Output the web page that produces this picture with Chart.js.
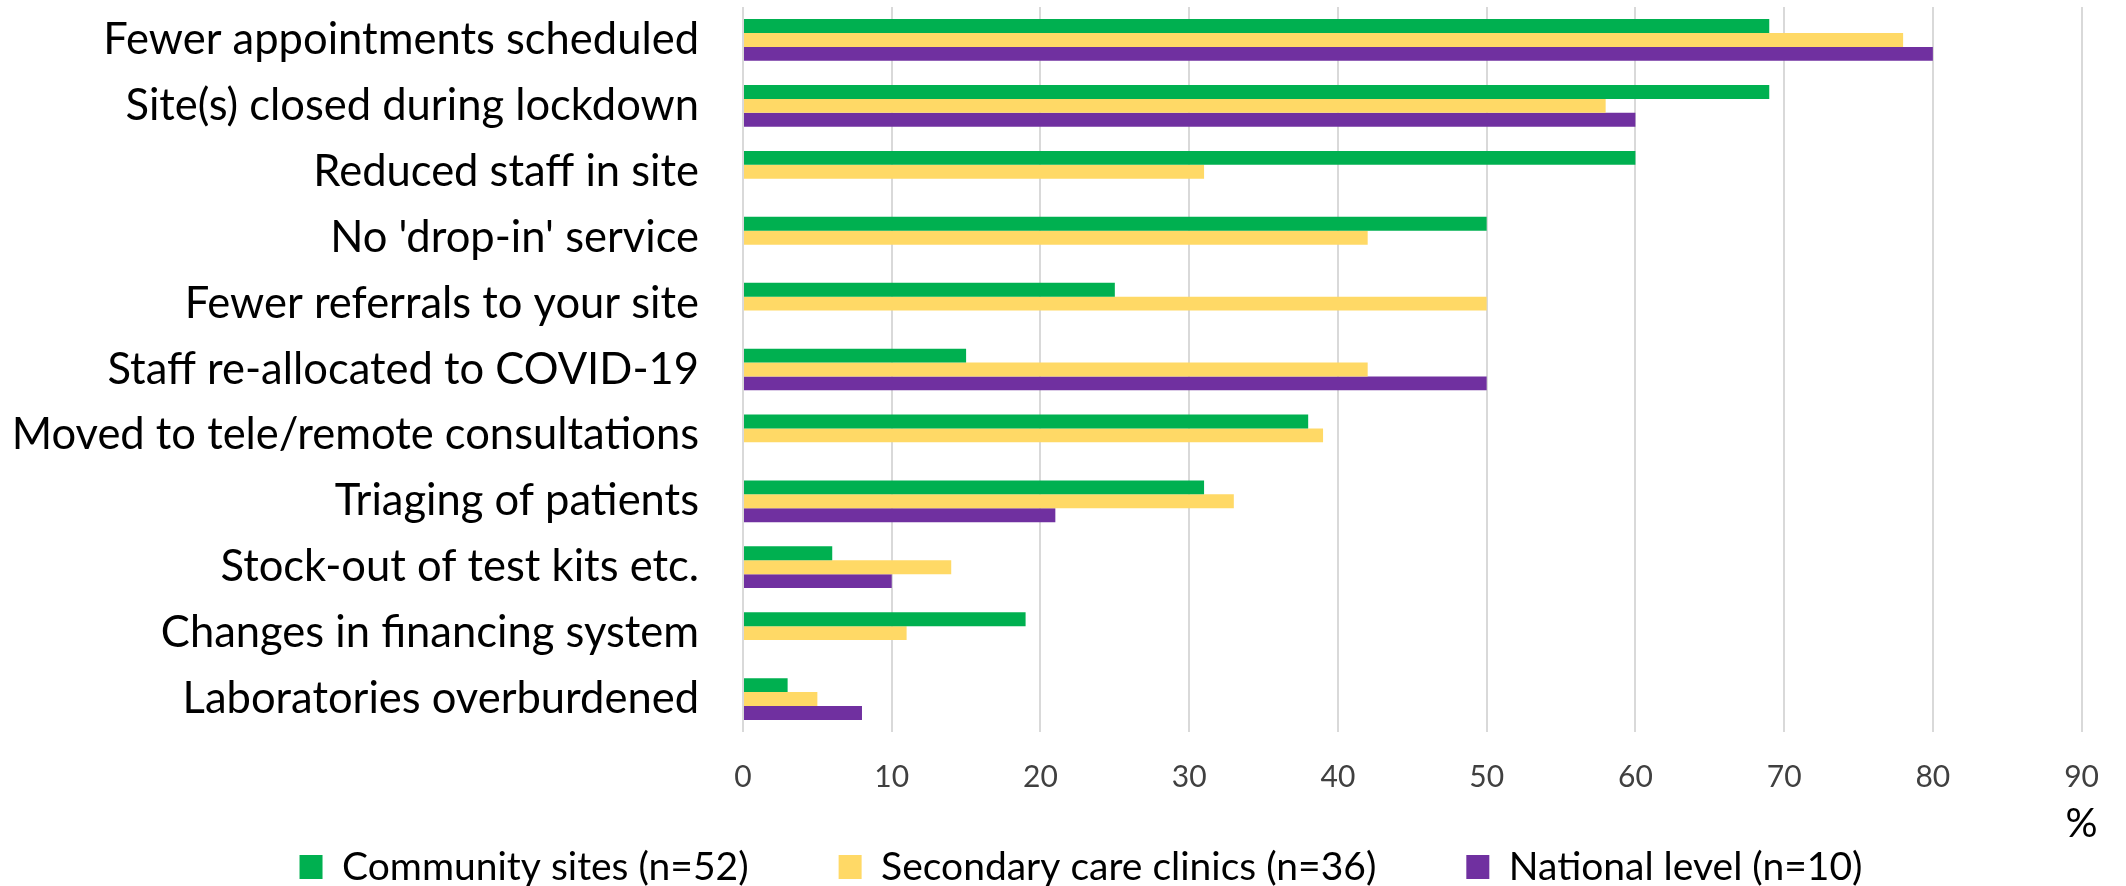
<!DOCTYPE html>
<html>
<head>
<meta charset="utf-8">
<script src="https://cdn.jsdelivr.net/npm/chart.js@4"></script>
<style>
  html, body { margin: 0; padding: 0; background: #fff; }
  #wrap { width: 2126px; height: 886px; }
</style>
</head>
<body>
<div id="wrap"><canvas id="c" width="2126" height="886"></canvas></div>
<script>
const categories = [
  "Fewer appointments scheduled",
  "Site(s) closed during lockdown",
  "Reduced staff in site",
  "No 'drop-in' service",
  "Fewer referrals to your site",
  "Staff re-allocated to COVID-19",
  "Moved to tele/remote consultations",
  "Triaging of patients",
  "Stock-out of test kits etc.",
  "Changes in financing system",
  "Laboratories overburdened"
];
const communitySites = [69, 69, 60, 50, 25, 15, 38, 31, 6, 19, 3];
const secondaryCare  = [78, 58, 31, 42, 50, 42, 39, 33, 14, 11, 5];
const nationalLevel  = [80, 60, 0, 0, 0, 50, 0, 21, 10, 0, 8];
const seriesNames = ["Community sites (n=52)", "Secondary care clinics (n=36)", "National level (n=10)"];
const xTicks = [0, 10, 20, 30, 40, 50, 60, 70, 80, 90];
const xAxisTitle = "%";

const FONT = "Lato";
const PAD_LEFT = 12;
const AXIS_RIGHT_X = 743;
const X_AXIS_H = 63;
const LEGEND_TOP = 757.5;
const LEGEND_LEFT = 60;

const percentTitle = {
  id: 'percentTitle',
  afterDraw(chart) {
    const ctx = chart.ctx;
    const xs = chart.scales.x;
    ctx.save();
    ctx.font = "40px " + FONT;
    ctx.fillStyle = "#000";
    ctx.textAlign = "center";
    ctx.textBaseline = "middle";
    ctx.fillText(xAxisTitle, xs.getPixelForValue(xTicks[xTicks.length - 1]), chart.chartArea.bottom + 92);
    ctx.restore();
  }
};

const legendPlacer = {
  id: 'legendPlacer',
  afterLayout(chart) {
    const lg = chart.legend;
    if (!lg) return;
    lg.top = LEGEND_TOP;
    lg.bottom = chart.height;
    lg.height = lg.bottom - lg.top;
    lg.left = LEGEND_LEFT;
    lg.width = lg.right - lg.left;
  }
};

new Chart(document.getElementById('c'), {
  type: 'bar',
  data: {
    labels: categories,
    datasets: [
      { label: seriesNames[0], data: communitySites, backgroundColor: '#00B050', borderWidth: 0 },
      { label: seriesNames[1], data: secondaryCare, backgroundColor: '#FFD966', borderWidth: 0 },
      { label: seriesNames[2], data: nationalLevel, backgroundColor: '#7030A0', borderWidth: 0 }
    ]
  },
  options: {
    indexAxis: 'y',
    responsive: false,
    animation: false,
    devicePixelRatio: 1,
    layout: { padding: { top: 7, right: 24, bottom: 0, left: PAD_LEFT } },
    datasets: { bar: { categoryPercentage: 0.633, barPercentage: 1.0 } },
    scales: {
      x: {
        min: 0, max: 90,
        afterBuildTicks: (s) => { s.ticks = xTicks.map(v => ({ value: v })); },
        grid: { color: '#D9D9D9', lineWidth: 2, drawTicks: false },
        border: { display: false },
        ticks: { color: '#404040', font: { family: FONT, size: 30 }, padding: 27, maxRotation: 0, autoSkip: false },
        afterFit: (s) => { s.height = X_AXIS_H; }
      },
      y: {
        grid: { display: true, drawOnChartArea: false, drawTicks: true, tickLength: 44, color: 'rgba(0,0,0,0)' },
        border: { display: false },
        ticks: { color: '#000', font: { family: FONT, size: 43.5, lineHeight: 0.3 }, padding: 0, autoSkip: false },
        afterFit: (s) => { s.width = AXIS_RIGHT_X - PAD_LEFT; }
      }
    },
    plugins: {
      tooltip: { enabled: false },
      legend: {
        position: 'bottom',
        maxHeight: 91,
        labels: {
          color: '#000',
          font: { family: FONT, size: 39 },
          boxWidth: 23,
          boxHeight: 24,
          padding: 90
        }
      }
    }
  },
  plugins: [legendPlacer, percentTitle]
});
</script>
</body>
</html>
